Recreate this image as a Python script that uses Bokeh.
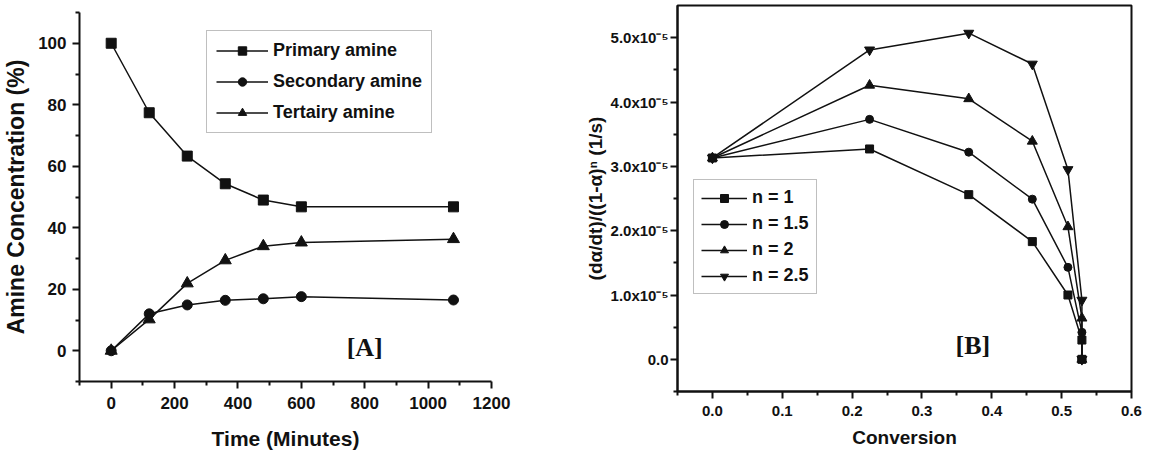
from bokeh.plotting import figure
from bokeh.layouts import row, column
from bokeh.models import (FixedTicker, CustomJSTickFormatter, NumeralTickFormatter,
                          Label, Legend, LegendItem, Range1d)
from bokeh.embed import file_html
from bokeh.resources import INLINE

# ---------------- data: panel A ----------------
time_min = [0, 120, 240, 360, 480, 600, 1080]
primary = [100, 77.4, 63.3, 54.3, 49.0, 46.8, 46.8]
secondary = [0, 12.0, 14.9, 16.4, 16.9, 17.6, 16.5]
tertiary = [0, 10.2, 21.9, 29.4, 34.0, 35.2, 36.3]
a_series_names = ["Primary amine", "Secondary amine", "Tertairy amine"]
a_xticks = [0, 200, 400, 600, 800, 1000, 1200]
a_xminor = [-100, 100, 300, 500, 700, 900, 1100]
a_yticks = [0, 20, 40, 60, 80, 100]
a_yminor = [-10, 10, 30, 50, 70, 90, 110]

# ---------------- data: panel B ----------------
conversion = [0, 0.225, 0.367, 0.458, 0.509, 0.529, 0.529]
rate_n1 = [3.13e-5, 3.27e-5, 2.56e-5, 1.83e-5, 1.00e-5, 0.30e-5, 0.0]
rate_n15 = [3.13e-5, 3.73e-5, 3.22e-5, 2.49e-5, 1.43e-5, 0.42e-5, 0.0]
rate_n2 = [3.13e-5, 4.26e-5, 4.05e-5, 3.39e-5, 2.06e-5, 0.64e-5, 0.0]
rate_n25 = [3.13e-5, 4.81e-5, 5.07e-5, 4.59e-5, 2.95e-5, 0.92e-5, 0.0]
b_series_names = ["n = 1", "n = 1.5", "n = 2", "n = 2.5"]
b_xticks = [0, 0.1, 0.2, 0.3, 0.4, 0.5, 0.6]
b_xminor = [-0.05, 0.05, 0.15, 0.25, 0.35, 0.45, 0.55]
b_yticks = [0, 1e-5, 2e-5, 3e-5, 4e-5, 5e-5]
b_ytick_labels = ["0.0", "1.0x10\u207b\u2075", "2.0x10\u207b\u2075", "3.0x10\u207b\u2075",
                  "4.0x10\u207b\u2075", "5.0x10\u207b\u2075"]
b_yminor = [-0.5e-5, 0.5e-5, 1.5e-5, 2.5e-5, 3.5e-5, 4.5e-5]

FONT = "Liberation Sans"
SERIF = "Liberation Serif"
INK = "#111111"


def style_axis(ax, tick_px, title_px, label_standoff, title_standoff):
    ax.axis_line_color = INK
    ax.axis_line_width = 2
    ax.major_tick_line_color = INK
    ax.major_tick_line_width = 2
    ax.minor_tick_line_color = INK
    ax.minor_tick_line_width = 2
    ax.major_tick_in = 0
    ax.major_tick_out = 7
    ax.minor_tick_in = 0
    ax.minor_tick_out = 4
    ax.major_label_text_font = FONT
    ax.major_label_text_font_style = "bold"
    ax.major_label_text_font_size = tick_px
    ax.major_label_text_color = INK
    ax.major_label_standoff = label_standoff
    ax.axis_label_text_font = FONT
    ax.axis_label_text_font_style = "bold"
    ax.axis_label_text_font_size = title_px
    ax.axis_label_text_color = INK
    ax.axis_label_standoff = title_standoff


# ---------------- panel A ----------------
pA = figure(width=580, height=454, output_backend="svg", toolbar_location=None,
            x_range=Range1d(-100, 1200), y_range=Range1d(-10, 110),
            min_border_left=79, min_border_right=89, min_border_top=12, min_border_bottom=73)
pA.outline_line_color = None
pA.grid.visible = False
pA.xaxis.ticker = FixedTicker(ticks=a_xticks, minor_ticks=a_xminor)
pA.yaxis.ticker = FixedTicker(ticks=a_yticks, minor_ticks=a_yminor)
pA.xaxis.axis_label = "Time (Minutes)"
pA.yaxis.axis_label = "Amine Concentration (%)"
style_axis(pA.xaxis[0], "17px", "21px", 8, 15)
style_axis(pA.yaxis[0], "17px", "23px", 6, 6)

itemsA = []
for ys, marker, msize, name in zip([primary, secondary, tertiary],
                                   ["square", "circle", "triangle"],
                                   [10, 10, 12], a_series_names):
    ln = pA.line(time_min, ys, line_color=INK, line_width=1.5)
    sc = pA.scatter(time_min, ys, marker=marker, size=msize, fill_color=INK, line_color=INK)
    itemsA.append(LegendItem(label=name, renderers=[ln, sc]))

legA = Legend(items=itemsA, location=(127, 248), padding=9, spacing=10,
              label_height=21, glyph_height=21, glyph_width=52, label_standoff=5,
              label_text_font=FONT, label_text_font_style="bold", label_text_font_size="18px",
              label_text_color=INK, border_line_color="#808080", border_line_width=1.5,
              background_fill_alpha=1.0, margin=0)
pA.add_layout(legA, "center")
pA.add_layout(Label(x=800, y=1, text="[A]", text_font=SERIF, text_font_style="bold",
                    text_font_size="26px", text_align="center", text_baseline="middle",
                    text_color=INK))

# ---------------- panel B ----------------
pB = figure(width=571, height=454, output_backend="svg", toolbar_location=None,
            x_range=Range1d(-0.05, 0.6), y_range=Range1d(-0.5e-5, 5.5e-5),
            min_border_left=97, min_border_right=20, min_border_top=5, min_border_bottom=63)
pB.outline_line_color = INK
pB.outline_line_width = 2
pB.grid.visible = False
pB.xaxis.ticker = FixedTicker(ticks=b_xticks, minor_ticks=b_xminor)
pB.xaxis.formatter = NumeralTickFormatter(format="0.0")
pB.yaxis.ticker = FixedTicker(ticks=b_yticks, minor_ticks=b_yminor)
pB.yaxis.formatter = CustomJSTickFormatter(args=dict(vals=b_yticks, labels=b_ytick_labels), code="""
let best = 0, d = Infinity;
for (let i = 0; i < vals.length; i++) {
  const e = Math.abs(vals[i] - tick);
  if (e < d) { d = e; best = i; }
}
return labels[best];
""")
pB.xaxis.axis_label = "Conversion"
pB.yaxis.axis_label = "(d\u03b1/dt)/((1-\u03b1)\u207f (1/s)"
style_axis(pB.xaxis[0], "15px", "19px", 7, 8)
style_axis(pB.yaxis[0], "15px", "19px", 2, 2)

itemsB = []
for ys, marker, msize, name in zip([rate_n1, rate_n15, rate_n2, rate_n25],
                                   ["square", "circle", "triangle", "inverted_triangle"],
                                   [8, 8, 10, 10], b_series_names):
    ln = pB.line(conversion, ys, line_color=INK, line_width=1.5)
    sc = pB.scatter(conversion, ys, marker=marker, size=msize, fill_color=INK, line_color=INK)
    itemsB.append(LegendItem(label=name, renderers=[ln, sc]))

legB = Legend(items=itemsB, location=(16, 97), padding=7, spacing=5,
              label_height=20, glyph_height=20, glyph_width=46, label_standoff=5,
              label_text_font=FONT, label_text_font_style="bold", label_text_font_size="18px",
              label_text_color=INK, border_line_color="#808080", border_line_width=1.5,
              background_fill_alpha=1.0, margin=0)
pB.add_layout(legB, "center")
pB.add_layout(Label(x=0.373, y=0.22e-5, text="[B]", text_font=SERIF, text_font_style="bold",
                    text_font_size="26px", text_align="center", text_baseline="middle",
                    text_color=INK))

layout = row(column(pA), column(pB))
open("out.html", "w").write(file_html(layout, INLINE))
